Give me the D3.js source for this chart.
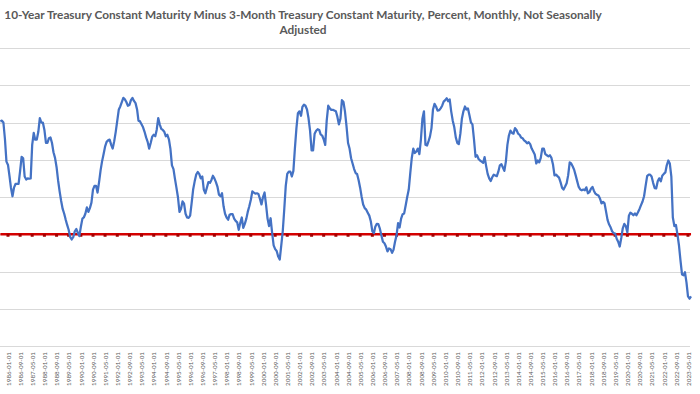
<!DOCTYPE html>
<html>
<head>
<meta charset="utf-8">
<script src="https://cdn.jsdelivr.net/npm/d3@7"></script>
<style>
  body { margin: 0; background: #fff; }
  svg { display: block; }
</style>
</head>
<body>
<svg id="svg" width="700" height="394"></svg>
<script>
// 10Y minus 3M treasury spread, monthly, first value is 1985-08
let firstMonth = new Date(1985, 7, 1);

let spread1980s = [
  3.03, 3.05, 3.0, 2.55, 1.95,
  1.86, 1.55, 1.25, 1.02, 1.25, 1.35, 1.35, 1.35, 1.7, 2.08, 2.04, 1.55,
  1.47, 1.5, 1.49, 1.5, 2.4, 2.72, 2.54, 2.54, 2.75, 3.12, 3.0, 3.0,
  2.8, 2.45, 2.45, 2.58, 2.6, 2.45, 2.2, 2.05, 1.8, 1.45, 1.15, 0.9,
  0.68, 0.55, 0.4, 0.25, 0.12, -0.08, -0.14, -0.08, 0.08, 0.14, 0.04, -0.05
];
let spread1990s = [
  0.2, 0.42, 0.45, 0.55, 0.72, 0.6, 0.7, 0.85, 1.2, 1.3, 1.3, 1.12,
  1.4, 1.72, 1.95, 2.15, 2.35, 2.48, 2.52, 2.54, 2.4, 2.3, 2.5, 2.75,
  3.05, 3.35, 3.43, 3.55, 3.66, 3.62, 3.55, 3.45, 3.47, 3.6, 3.66, 3.58,
  3.52, 3.35, 3.05, 3.03, 2.95, 2.87, 2.75, 2.6, 2.48, 2.3, 2.45, 2.62,
  2.67, 2.63, 2.8, 3.12, 2.95, 2.83, 2.8, 2.75, 2.63, 2.67, 2.55, 2.3,
  1.85, 1.75, 1.5, 1.25, 1.0, 0.6, 0.68, 0.88, 0.82, 0.55, 0.45, 0.44,
  0.5, 0.85, 1.2, 1.42, 1.6, 1.67, 1.62, 1.5, 1.55, 1.2, 1.1, 1.25,
  1.4, 1.38, 1.45, 1.57, 1.5, 1.4, 1.28, 1.06, 1.02, 1.1, 0.75, 0.55,
  0.45, 0.39, 0.52, 0.54, 0.54, 0.42, 0.36, 0.32, 0.12, 0.3, 0.45, 0.17,
  0.28, 0.42, 0.6, 0.75, 0.92, 1.15, 1.12, 1.09, 1.1, 1.08, 0.95, 0.8
];
let spread2000s = [
  1.0, 1.12, 0.8, 0.42, 0.22, 0.43, 0.05, -0.3, -0.4, -0.45, -0.6, -0.68,
  -0.3, 0.1, 0.65, 1.3, 1.62, 1.68, 1.68, 1.55, 1.7, 2.3, 2.85, 3.25,
  3.3, 3.18, 3.42, 3.48, 3.45, 3.35, 3.12, 2.78, 2.25, 2.25, 2.7, 2.78,
  2.82, 2.8, 2.68, 2.65, 2.55, 2.4, 3.05, 3.45, 3.38, 3.34, 3.34, 3.32,
  3.3, 3.15, 2.95, 3.1, 3.6, 3.55, 3.3, 2.9, 2.45, 2.3, 2.04, 1.9,
  1.75, 1.64, 1.62, 1.45, 1.25, 1.0, 0.8, 0.7, 0.66, 0.58, 0.5, 0.35,
  0.08, 0.03, 0.2, 0.28, 0.27, 0.15, -0.03, -0.2, -0.24, -0.33, -0.46, -0.38,
  -0.4, -0.5, -0.42, -0.2, -0.03, 0.3, 0.18, 0.42, 0.54, 0.56, 0.78, 1.0,
  1.2, 1.65, 2.04, 2.3, 2.18, 2.22, 2.3, 2.15, 2.55, 3.1, 3.3, 2.4,
  2.38, 2.5, 2.62, 2.85, 3.35, 3.5, 3.43, 3.32, 3.33, 3.38, 3.45, 3.56
];
let spread2010s = [
  3.6, 3.65, 3.57, 3.62, 3.3, 3.05, 2.88, 2.6, 2.45, 2.42, 2.7, 3.1,
  3.3, 3.43, 3.35, 3.38, 3.2, 3.0, 2.95, 2.55, 2.08, 2.12, 2.02, 1.98,
  1.95, 1.92, 2.07, 1.83, 1.62, 1.5, 1.43, 1.53, 1.6, 1.58, 1.56, 1.68,
  1.85, 1.88, 1.8, 1.7, 1.95, 2.4, 2.65, 2.78, 2.72, 2.7, 2.85, 2.8,
  2.7, 2.67, 2.6, 2.58, 2.52, 2.49, 2.44, 2.47, 2.42, 2.3, 2.22, 2.14,
  1.9, 1.98, 1.93, 2.05, 2.3, 2.3, 2.15, 2.12, 2.09, 2.12, 2.05, 1.88,
  1.58, 1.6, 1.56, 1.52, 1.4, 1.25, 1.2, 1.28, 1.37, 1.58, 1.93, 1.9,
  1.82, 1.72, 1.58, 1.42, 1.27, 1.2, 1.18, 1.2, 1.18, 1.26, 1.1, 1.13,
  1.22, 1.27, 1.17, 1.09, 1.06, 1.04, 0.96, 0.83, 0.87, 0.83, 0.6, 0.38,
  0.26, 0.18, 0.08, 0.03, 0.02, -0.12, -0.2, -0.33, -0.1, 0.16, 0.28, 0.22
];
let spread2020s = [
  0.05, 0.5, 0.58, 0.55, 0.51, 0.56, 0.51, 0.59, 0.68, 0.78, 0.88, 1.02,
  1.3, 1.56, 1.6, 1.6, 1.55, 1.38, 1.24, 1.23, 1.42, 1.5, 1.42, 1.57,
  1.62, 1.66, 1.85, 1.98, 1.9, 1.55, 0.45, 0.22, 0.25, 0.0, -0.3, -0.7,
  -1.08, -1.1, -1.02, -1.3, -1.67, -1.73, -1.67
];
let yTicks = [-3, -2, -1, 0, 1, 2, 3, 4, 5];
let titleLines = [
  "10-Year Treasury Constant Maturity Minus 3-Month Treasury Constant Maturity, Percent, Monthly, Not Seasonally",
  "Adjusted"
];

let svg = d3.select("#svg");
let width = +svg.attr("width");
let height = +svg.attr("height");

let data = [].concat(spread1980s, spread1990s, spread2000s, spread2010s, spread2020s)
  .map((v, i) => ({ date: d3.timeMonth.offset(firstMonth, i), value: v }));

let x = d3.scaleTime()
  .domain([new Date(1986, 0, 1), new Date(2023, 4, 1)])
  .range([8, 688]);
let y = d3.scaleLinear().domain([-3, 5]).range([346, 48]);

// every 8th month is labelled, like the category axis
let labelDates = d3.timeMonth.range(new Date(1986, 0, 1), new Date(2023, 5, 1), 8);

// horizontal gridlines
svg.append("g")
  .selectAll("line")
  .data(yTicks)
  .enter()
  .append("line")
  .attr("x1", 0)
  .attr("x2", 690)
  .attr("y1", (d) => Math.round(y(d)) + 0.5)
  .attr("y2", (d) => Math.round(y(d)) + 0.5)
  .style("stroke", "#d9d9d9")
  .style("stroke-width", 1);

// x axis labels
let xAxis = svg.append("g")
  .attr("transform", "translate(0," + y(-3) + ")")
  .call(d3.axisBottom(x).tickValues(labelDates).tickFormat(d3.timeFormat("%Y-%m-%d")).tickSize(0));
xAxis.select(".domain").remove();
xAxis.selectAll("text")
  .attr("transform", "rotate(-90)")
  .attr("x", -6)
  .attr("y", 0)
  .attr("dy", "0.35em")
  .style("text-anchor", "end")
  .style("font-family", "Lato, 'Noto Sans', sans-serif")
  .style("font-size", "8px")
  .style("fill", "#595959");
// fit label length to ~34px
let sample = xAxis.select("text").node();
let fs = 8 * 34 / sample.getComputedTextLength();
xAxis.selectAll("text").style("font-size", fs + "px");

// zero line with markers
let first = data[0].date;
let last = data[data.length - 1].date;
svg.append("line")
  .attr("x1", x(first))
  .attr("x2", x(last))
  .attr("y1", y(0))
  .attr("y2", y(0))
  .style("stroke", "#d40000")
  .style("stroke-width", 2.6);
svg.append("g")
  .selectAll("rect")
  .data(labelDates)
  .enter()
  .append("rect")
  .attr("x", (d) => x(d) - 1.5)
  .attr("y", y(0) - 0.5)
  .attr("width", 3)
  .attr("height", 3)
  .style("fill", "#a30000");

// spread line
let line = d3.line()
  .x((d) => x(d.date))
  .y((d) => y(d.value));
svg.append("path")
  .datum(data)
  .attr("d", line)
  .style("fill", "none")
  .style("stroke", "#4472c4")
  .style("stroke-width", 2.25)
  .style("stroke-linejoin", "round");

// title
let title = svg.append("g")
  .style("font-family", "Lato, 'Noto Sans', sans-serif")
  .style("font-weight", "bold")
  .style("fill", "#595959");
let t1 = title.append("text")
  .attr("x", 303)
  .attr("y", 19)
  .attr("text-anchor", "middle")
  .style("font-size", "13px")
  .text(titleLines[0]);
let tfs = 13 * 598 / t1.node().getComputedTextLength();
t1.style("font-size", tfs + "px");
title.append("text")
  .attr("x", 303)
  .attr("y", 34)
  .attr("text-anchor", "middle")
  .style("font-size", tfs + "px")
  .text(titleLines[1]);
</script>
</body>
</html>
